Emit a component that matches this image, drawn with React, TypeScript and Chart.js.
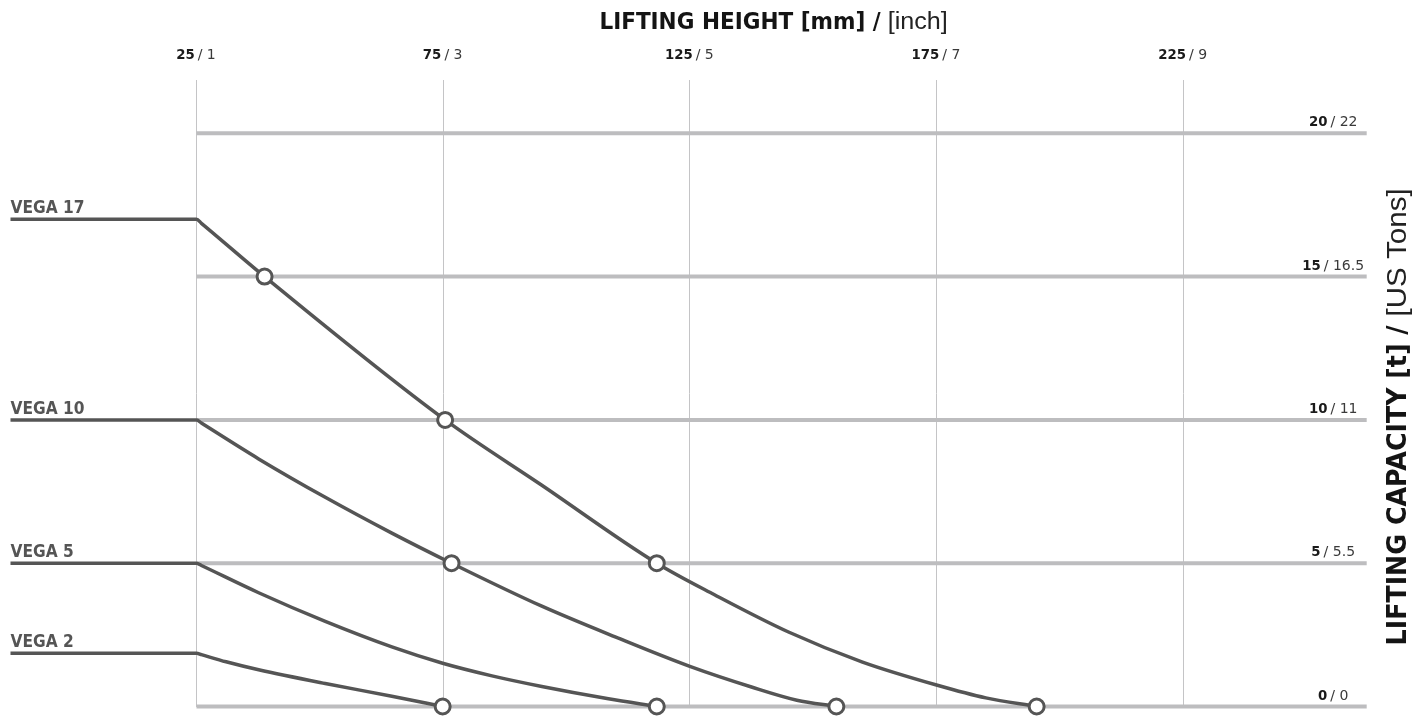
import { useEffect, useRef } from 'react';
import { Chart, registerables } from 'chart.js';

Chart.register(...registerables);

// ---- axis ranges & ticks ----
const X_MIN = -12.7;
const X_MAX = 262.2;
const Y_MIN = 0;
const Y_MAX = 21.86;
const X_TICKS = [25, 75, 125, 175, 225];
const X_TICK_INCH = ['1', '3', '5', '7', '9'];
const Y_TICKS = [0, 5, 10, 15, 20];
const Y_TICK_US = ['0', '5.5', '11', '16.5', '22'];

// ---- series ----
const SERIES_NAMES = ['VEGA 17', 'VEGA 10', 'VEGA 5', 'VEGA 2'];

const VEGA17_X = [-12.7, 25, 26, 38.8, 75.4, 95, 118.3, 130, 145, 160, 175, 185, 195.3];
const VEGA17_Y = [17, 17, 16.86, 15, 10, 7.72, 5, 3.9, 2.6, 1.55, 0.75, 0.3, 0];
const VEGA17_MARK = [0, 0, 0, 1, 1, 0, 1, 0, 0, 0, 0, 0, 1];

const VEGA10_X = [-12.7, 25, 26, 37.6, 51.1, 64.6, 76.7, 95, 110, 125, 137.5, 146.7, 154.7];
const VEGA10_Y = [10, 10, 9.89, 8.64, 7.3, 6.05, 5, 3.5, 2.42, 1.4, 0.68, 0.22, 0];
const VEGA10_MARK = [0, 0, 0, 0, 0, 0, 1, 0, 0, 0, 0, 0, 1];

const VEGA5_X = [-12.7, 25, 26, 37.6, 51.1, 64.6, 74.9, 84.9, 95, 108.5, 118.3];
const VEGA5_Y = [5, 5, 4.92, 3.97, 2.97, 2.08, 1.51, 1.07, 0.7, 0.27, 0];
const VEGA5_MARK = [0, 0, 0, 0, 0, 0, 0, 0, 0, 0, 1];

const VEGA2_X = [-12.7, 25, 26, 31, 37.6, 51.1, 64.6, 74.9];
const VEGA2_Y = [1.86, 1.86, 1.81, 1.56, 1.28, 0.8, 0.36, 0];
const VEGA2_MARK = [0, 0, 0, 0, 0, 0, 0, 1];

const SERIES_X = [VEGA17_X, VEGA10_X, VEGA5_X, VEGA2_X];
const SERIES_Y = [VEGA17_Y, VEGA10_Y, VEGA5_Y, VEGA2_Y];
const SERIES_MARK = [VEGA17_MARK, VEGA10_MARK, VEGA5_MARK, VEGA2_MARK];

// ---- styles ----
const LS = "'Liberation Sans', Arial, Helvetica, sans-serif";
const DV = "'DejaVu Sans', 'Liberation Sans', sans-serif";
const LINE_COLOR = '#555555';

type Part = { text: string; font: string; color: string; sx?: number; gap?: number };

function runWidth(ctx: CanvasRenderingContext2D, parts: Part[]) {
  let w = 0;
  parts.forEach((p, i) => {
    ctx.font = p.font;
    w += ctx.measureText(p.text).width * (p.sx ?? 1);
    if (i < parts.length - 1) w += p.gap ?? 0;
  });
  return w;
}

function drawRun(ctx: CanvasRenderingContext2D, parts: Part[], x: number, y: number) {
  let cur = x;
  parts.forEach((p) => {
    ctx.font = p.font;
    const sx = p.sx ?? 1;
    const w = ctx.measureText(p.text).width * sx;
    ctx.save();
    ctx.translate(cur, y);
    ctx.scale(sx, 1);
    ctx.fillStyle = p.color;
    ctx.textAlign = 'left';
    ctx.textBaseline = 'alphabetic';
    ctx.fillText(p.text, 0, 0);
    ctx.restore();
    cur += w + (p.gap ?? 0);
  });
}

function squeezeFor(ctx: CanvasRenderingContext2D, text: string, font: string, target: number) {
  ctx.font = font;
  return target / ctx.measureText(text).width;
}

const decorPlugin = {
  id: 'decor',
  beforeDatasetsDraw(chart: any) {
    const { ctx, chartArea, scales } = chart;
    const xs = scales.x;
    const ys = scales.y;
    const x0 = xs.getPixelForValue(X_TICKS[0]);
    ctx.save();
    ctx.strokeStyle = '#bdbdbf';
    ctx.lineWidth = 4;
    Y_TICKS.forEach((v) => {
      const py = ys.getPixelForValue(v);
      ctx.beginPath();
      ctx.moveTo(x0, py);
      ctx.lineTo(chartArea.right, py);
      ctx.stroke();
    });
    ctx.restore();
  },
  afterDraw(chart: any) {
    const { ctx, chartArea, scales } = chart;
    const xs = scales.x;
    const ys = scales.y;
    ctx.save();

    // x tick labels (top)
    X_TICKS.forEach((v, i) => {
      const parts: Part[] = [
        { text: String(v), font: `bold 14px ${DV}`, color: '#1a1a1a', sx: 0.95, gap: 3 },
        { text: '/ ' + X_TICK_INCH[i], font: `14px ${DV}`, color: '#3a3a3a' },
      ];
      const w = runWidth(ctx, parts);
      drawRun(ctx, parts, xs.getPixelForValue(v) - 0.5 - w / 2, 59);
    });

    // y tick labels (right, above lines)
    Y_TICKS.forEach((v, i) => {
      const parts: Part[] = [
        { text: String(v), font: `bold 14px ${DV}`, color: '#1a1a1a', sx: 0.95, gap: 3 },
        { text: '/ ' + Y_TICK_US[i], font: `14px ${DV}`, color: '#3a3a3a' },
      ];
      const w = runWidth(ctx, parts);
      drawRun(ctx, parts, chartArea.right - 33.5 - w / 2, ys.getPixelForValue(v) - 7);
    });

    // condensed heavy title face emulated by horizontal squeeze
    const fBR = `bold 27px ${DV}`;
    const fRR = `27px ${LS}`;
    const sB = squeezeFor(ctx, 'LIFTING CAPACITY [t] /', fBR, 320);
    const sR = squeezeFor(ctx, '[US Tons]', fRR, 128);

    // top title
    const topParts: Part[] = [
      { text: 'LIFTING HEIGHT [mm] /', font: `bold 23px ${DV}`, color: '#141414', sx: sB, gap: 7 },
      { text: '[inch]', font: `23px ${LS}`, color: '#222', sx: sR },
    ];
    const tw = runWidth(ctx, topParts);
    const cx = (xs.getPixelForValue(X_TICKS[0]) + chartArea.right) / 2 - 8;
    drawRun(ctx, topParts, cx - tw / 2, 28.5);

    // right title (rotated)
    const rightParts: Part[] = [
      { text: 'LIFTING CAPACITY [t] /', font: fBR, color: '#141414', sx: sB, gap: 9 },
      { text: '[US Tons]', font: fRR, color: '#222', sx: sR },
    ];
    const rw = runWidth(ctx, rightParts);
    const cy = (ys.getPixelForValue(Y_TICKS[0]) + ys.getPixelForValue(Y_TICKS[Y_TICKS.length - 1])) / 2 - 3;
    ctx.save();
    ctx.translate(1406, cy);
    ctx.rotate(-Math.PI / 2);
    drawRun(ctx, rightParts, -rw / 2, 0);
    ctx.restore();

    // series labels
    const fS = `bold 18px ${DV}`;
    const sS = squeezeFor(ctx, 'VEGA 17', fS, 74);
    SERIES_NAMES.forEach((name, i) => {
      const py = ys.getPixelForValue(SERIES_Y[i][0]);
      drawRun(ctx, [{ text: name, font: fS, color: '#555', sx: sS }], chartArea.left, py - 6);
    });

    ctx.restore();
  },
};

export default function App() {
  const canvasRef = useRef<HTMLCanvasElement | null>(null);

  useEffect(() => {
    if (!canvasRef.current) return;
    const datasets = SERIES_NAMES.map((name, i) => {
      const marks = SERIES_MARK[i];
      return {
        label: name,
        data: SERIES_X[i].map((x, j) => ({ x, y: SERIES_Y[i][j] })),
        borderColor: LINE_COLOR,
        borderWidth: 3.5,
        borderJoinStyle: 'round' as const,
        cubicInterpolationMode: 'monotone' as const,
        fill: false,
        clip: false as any,
        pointRadius: (c: any) => (marks[c.dataIndex] ? 7.5 : 0),
        pointHoverRadius: (c: any) => (marks[c.dataIndex] ? 7.5 : 0),
        pointBorderWidth: 3,
        pointBackgroundColor: '#ffffff',
        pointBorderColor: LINE_COLOR,
      };
    });

    const chart = new Chart(canvasRef.current, {
      type: 'line',
      data: { datasets },
      options: {
        animation: false,
        responsive: true,
        maintainAspectRatio: false,
        events: [],
        layout: { padding: { left: 8, right: 58.3, top: 80, bottom: 8.5 } },
        plugins: { legend: { display: false }, tooltip: { enabled: false } },
        scales: {
          x: {
            type: 'linear',
            min: X_MIN,
            max: X_MAX,
            position: 'bottom',
            border: { display: false },
            ticks: { display: false },
            grid: { color: '#c4c4c6', lineWidth: 1, drawTicks: false },
            afterBuildTicks: (s: any) => {
              s.ticks = X_TICKS.map((v) => ({ value: v }));
            },
          },
          y: {
            type: 'linear',
            min: Y_MIN,
            max: Y_MAX,
            display: false,
          },
        },
      },
      plugins: [decorPlugin],
    } as any);

    return () => chart.destroy();
  }, []);

  return (
    <div style={{ position: 'fixed', left: 0, top: 0, width: 1425, height: 717, background: '#fff' }}>
      <canvas ref={canvasRef} />
    </div>
  );
}
